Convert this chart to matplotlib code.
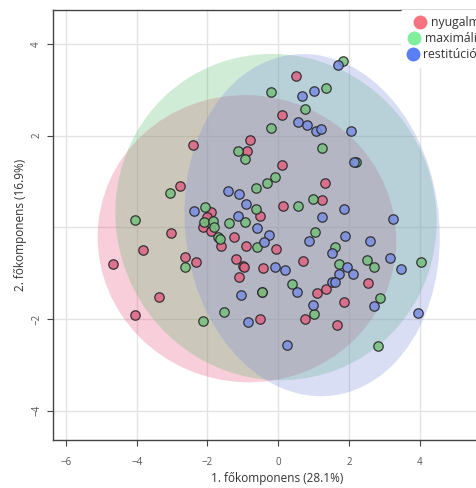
import numpy as np
import matplotlib
matplotlib.use("Agg")
import matplotlib.pyplot as plt
from matplotlib.patches import Ellipse
from matplotlib.lines import Line2D

plt.rcParams['font.family'] = ['Open Sans', 'DejaVu Sans']

# csoportok
groups = ["nyugalmi", "maximális", "restitúciós"]

# 1. és 2. főkomponens értékei csoportonként
nyugalmi_pc1 = [-2.41, -2.79, -3.02, -3.81, -4.68, -2.63, -2.33, -3.36, -4.05, -1.90,
                -2.02, -2.13, -1.90, -1.61, -1.26, -0.92, -1.20, -1.01, -0.98, -1.10,
                -0.42, -0.46, -0.52, -0.51, -0.81, -0.88, 0.50, 0.11, 0.12, 1.31,
                0.14, 1.24, -0.07, 0.70, 1.10, 1.36, 0.76, 1.85, 1.66, 2.54]
nyugalmi_pc2 = [1.79, 0.91, -0.13, -0.50, -0.81, -0.65, -0.76, -1.52, -1.91, 0.33,
                0.22, 0.00, -0.08, -0.41, -0.21, -0.41, -0.70, -0.85, -0.86, -1.09,
                -0.88, -1.41, -1.99, 0.24, 1.90, 1.67, 3.31, 2.44, 1.35, 0.97,
                0.47, 0.60, -0.47, -0.74, -1.43, -1.35, -1.99, -1.64, -2.14, -1.21]

maximalis_pc1 = [-3.05, -4.04, -2.65, -2.14, -2.07, -2.09, -1.85, -1.81, -1.71, -1.64,
                 -1.40, -0.95, -0.64, -0.61, -0.46, -1.54, -1.14, -0.93, -0.21, -0.21,
                 0.76, 1.35, 1.83, 1.25, 2.19, -0.08, -0.32, -0.63, 0.57, 0.98,
                 1.03, 0.39, 1.00, 1.61, 1.71, 2.51, 2.70, 4.05, 2.87, 2.82]
maximalis_pc2 = [0.74, 0.16, -0.87, -2.04, 0.44, 0.11, 0.14, 0.00, -0.21, -0.26,
                 0.10, 0.11, 0.41, -0.44, -1.41, -1.85, 1.67, 1.49, 2.95, 2.17,
                 2.58, 3.04, 3.63, 1.73, 1.43, 1.09, 0.97, 0.86, 0.47, 0.61,
                 -0.10, -1.24, -1.89, -0.42, -0.79, -0.71, -0.86, -0.75, -1.54, -2.60]

restitucios_pc1 = [-2.38, -1.42, -1.10, -0.92, -1.14, -0.61, -0.25, -0.41, -1.06, -0.86,
                   -0.09, 0.19, 0.53, 0.98, 0.24, 1.68, 1.01, 0.67, 0.55, 0.80,
                   1.07, 1.20, 2.06, 2.13, 1.24, 0.88, 1.85, 3.24, 1.90, 2.60,
                   1.52, 1.95, 2.11, 1.71, 1.52, 1.60, 3.17, 3.47, 2.72, 3.96]
restitucios_pc2 = [0.36, 0.79, 0.73, 0.51, 0.25, -0.01, -0.17, -0.31, -1.48, -2.06,
                   -0.86, -0.93, -1.41, -1.70, -2.57, 3.54, 2.98, 2.87, 2.29, 2.23,
                   2.11, 2.15, 2.10, 1.43, 0.23, -0.29, 0.39, 0.19, -0.18, -0.29,
                   -0.57, -0.86, -1.01, -1.01, -1.19, -1.19, -0.68, -0.91, -1.72, -1.87]

pc1 = [nyugalmi_pc1, maximalis_pc1, restitucios_pc1]
pc2 = [nyugalmi_pc2, maximalis_pc2, restitucios_pc2]

legend_colors = ["#f8737f", "#80ef9b", "#5a7ef5"]
point_colors = ["#dc6686", "#78bf80", "#7b8fe0"]
ellipse_colors = ["#e4507a", "#5cbc6c", "#7a8ade"]


# 95%-os konfidencia ellipszis (normális eloszlás, chi2 sugár)
def conf_ellipse(x, y, color, level=0.95):
    x = np.asarray(x)
    y = np.asarray(y)
    cov = np.cov(x, y)
    r = np.sqrt(-2 * np.log(1 - level))
    vals, vecs = np.linalg.eigh(cov)
    width = 2 * r * np.sqrt(vals[1])
    height = 2 * r * np.sqrt(vals[0])
    angle = np.degrees(np.arctan2(vecs[1, 1], vecs[0, 1]))
    return Ellipse((x.mean(), y.mean()), width, height, angle=angle,
                   facecolor=color, edgecolor="none", alpha=0.28, zorder=1)


fig = plt.figure(figsize=(4.77, 4.88), dpi=100)
ax = fig.add_axes([0.1118, 0.0984, 0.937, 0.881])

for i in range(3):
    ax.add_patch(conf_ellipse(pc1[i], pc2[i], ellipse_colors[i]))

for i in range(3):
    ax.scatter(pc1[i], pc2[i], s=46, color=point_colors[i], alpha=0.88,
               edgecolor="#222222", linewidth=0.9, zorder=3)

ax.set_xlim(-6.36, 6.28)
ax.set_ylim(-4.64, 4.74)
ax.set_xticks([-6, -4, -2, 0, 2, 4])
ax.set_yticks([-4, -2, 2, 4])
ax.axhline(0, color="#e3e3e3", lw=1, zorder=0)
ax.grid(True, color="#e3e3e3", lw=1, zorder=0)
ax.set_axisbelow(True)

for side in ["left", "bottom", "top", "right"]:
    ax.spines[side].set_color("#444444")
    ax.spines[side].set_linewidth(1)

ax.tick_params(direction="out", length=4, width=0.8, color="#444444",
               labelsize=7, labelcolor="#555555")
ax.tick_params(axis="x", pad=8)
ax.tick_params(axis="y", pad=4, labelrotation=90)
for lab in ax.get_yticklabels():
    lab.set_va("center")

ax.set_xlabel("1. főkomponens (28.1%)", fontsize=8.5, color="#333333", labelpad=3)
ax.set_ylabel("2. főkomponens (16.9%)", fontsize=8.5, color="#333333", labelpad=3)

handles = [Line2D([], [], linestyle="none", marker="o", markersize=10,
                  markerfacecolor=c, markeredgecolor="none") for c in legend_colors]
leg = ax.legend(handles, groups, loc="upper right", frameon=True, fontsize=8.8,
                bbox_to_anchor=(489 / 477, 1 - 10 / 488),
                bbox_transform=fig.transFigure,
                handletextpad=0.35, labelspacing=0.26,
                borderaxespad=0, borderpad=0.5, handlelength=1.0)
# a sorok jobbra igazítva (jelölő + szöveg)
try:
    for col in leg._legend_handle_box.get_children():
        col.align = "right"
except AttributeError:
    pass
leg.get_frame().set_facecolor("white")
leg.get_frame().set_edgecolor("none")
leg.get_frame().set_alpha(1)
for t in leg.get_texts():
    t.set_color("#333333")

fig.savefig("out.png", dpi=100)
